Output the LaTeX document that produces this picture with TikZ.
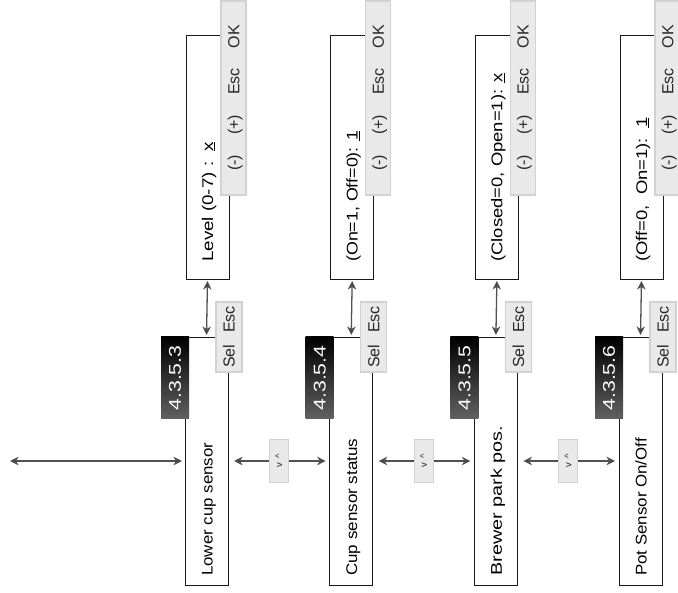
\documentclass[tikz,border=0pt]{standalone}
\usepackage{fontspec}
\setmainfont{Liberation Sans}
\usetikzlibrary{arrows.meta}
\begin{document}
\begin{tikzpicture}[x=1pt,y=-1pt,
  box/.style={draw=black!90, line width=0.9pt, inner sep=0pt, outer sep=0pt, minimum width=43pt, anchor=north west},
  menubox/.style={box, minimum height=248pt},
  parbox/.style={box, minimum height=244pt},
  btn/.style={fill=gray!17, draw=gray!35, line width=1.1pt, inner sep=0pt, outer sep=0pt, anchor=north west, font=\fontsize{16}{18}\selectfont, text=black!85},
  tag/.style={top color=black, bottom color=black!62, draw=none, inner sep=0pt, outer sep=0pt, anchor=north west, minimum width=28pt, minimum height=82pt, text=white, font=\fontsize{17}{20}\selectfont},
  lbl/.style={rotate=90, anchor=base west, inner sep=0pt, font=\fontsize{15.5}{18}\selectfont, text=black},
  arr/.style={draw=black!68, line width=1.3pt, {Stealth[length=8.5pt,width=8.5pt,inset=2.5pt,fill=black!85]}-{Stealth[length=8.5pt,width=8.5pt,inset=2.5pt,fill=black!85]}},
  vbtn/.style={btn, anchor=center, minimum width=19pt, minimum height=43pt, font=\fontsize{9.5}{10}\selectfont}
]
\useasboundingbox (0,0) rectangle (678,593);
\foreach \i/\X/\mtxt/\ms/\ptxt/\pf/\nm in {
 1/185/{Lower cup sensor}/1.087/{Level (0-7) :\ \ \underline{x}}/1.21/4.3.5.3,
 2/329.7/{Cup sensor status}/1.097/{(On=1, Off=0): \underline{1}}/1.15/4.3.5.4,
 3/474.4/{Brewer park pos.}/1.28/{(Closed=0, Open=1): \underline{x}}/1.19/4.3.5.5,
 4/619/{Pot Sensor On/Off}/1.09/{(Off=0,\ \ On=1):\ \ \underline{1}}/1.19/4.3.5.6}{
  \node[menubox] (m\i) at (\X,337) {};
  \node[parbox] (p\i) at (\X+1,35) {};
  \node[btn, minimum width=25pt, minimum height=194pt] (k\i) at (\X+36,1)
    {\rotatebox{90}{\raisebox{0pt}[\height][0pt]{(-)\hspace{20pt}(+)\hspace{20pt}Esc\hspace{20pt}OK}}};
  \node[btn, minimum width=26pt, minimum height=70pt] (s\i) at (\X+31,302)
    {\rotatebox{90}{Sel\hspace{12pt}Esc}};
  \node[tag] (t\i) at (\X-24,337) {\rotatebox{90}{\scalebox{1.25}[1]{\nm}}};
  \node[lbl] (mt\i) at (\X+27.5,576) {\scalebox{\ms}[1]{\mtxt}};
  \node[lbl] (pt\i) at (\X+28,262) {\scalebox{\pf}[1]{\ptxt}};
  \draw[arr, shorten <=2pt, shorten >=2pt] ([xshift=21.5pt]p\i.south west) -- ([xshift=21.5pt]m\i.north west);
}
\coordinate (L) at (10,461);
\draw[arr, shorten >=3pt] (L) -- (m1.west);
\foreach \a/\b in {1/2,2/3,3/4}{
  \draw[arr, shorten <=6pt, shorten >=4pt] (m\a.east) -- node[vbtn] (n\a) {\rotatebox{90}{v\hspace{4pt}\textasciicircum}} (m\b.west);
}
\end{tikzpicture}
\end{document}
